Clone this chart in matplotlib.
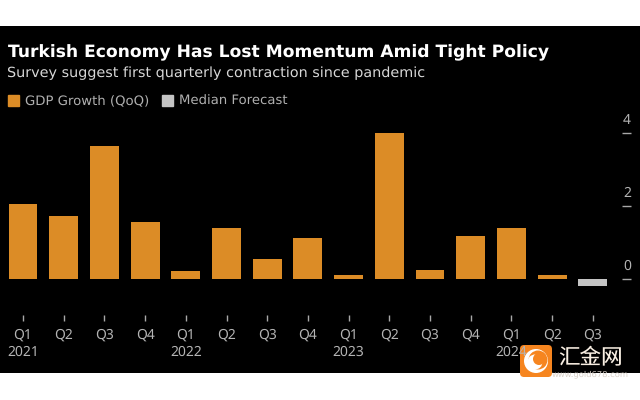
import matplotlib
matplotlib.use('Agg')
import matplotlib.pyplot as plt
from matplotlib.patches import Circle, FancyBboxPatch, Patch

plt.rcParams['text.hinting'] = 'no_hinting'

W, H = 640, 400

quarters = ['Q1', 'Q2', 'Q3', 'Q4', 'Q1', 'Q2', 'Q3', 'Q4', 'Q1', 'Q2', 'Q3', 'Q4', 'Q1', 'Q2', 'Q3']
years = ['2021', '', '', '', '2022', '', '', '', '2023', '', '', '', '2024', '', '']
gdp_growth = [2.05, 1.72, 3.65, 1.57, 0.2, 1.4, 0.53, 1.13, 0.1, 4.0, 0.23, 1.17, 1.4, 0.1]
median_forecast = [-0.2]
y_ticks = [0, 2, 4]

ORANGE = '#dc8c26'
GREY = '#c4c4c4'
TICK = '#a8a8a8'
LABEL = '#b4b4b4'


def px_box(x0, y0, x1, y1):
    # pixel box (y from the top) to figure fractions
    return [x0 / W, 1 - y1 / H, (x1 - x0) / W, (y1 - y0) / H]


fig = plt.figure(figsize=(W / 100, H / 100), dpi=100, facecolor='white')

# black card, also used as pixel canvas for the texts and the logo
bg = fig.add_axes([0, 0, 1, 1])
bg.set_xlim(0, W)
bg.set_ylim(H, 0)
bg.axis('off')
bg.axhspan(26, 373, color='black', lw=0)

ax = fig.add_axes(px_box(0, 100, 622, 315))
ax.patch.set_alpha(0)
step = 40.7
ax.set_xlim(-23 / step, (622 - 23) / step)
ax.set_ylim((278.7 - 315) / 36.4, (278.7 - 100) / 36.4)

xs = list(range(len(quarters)))
ax.bar(xs[:len(gdp_growth)], gdp_growth, width=0.71, color=ORANGE)
ax.bar(xs[len(gdp_growth):], median_forecast, width=0.71, color=GREY)

for s in ax.spines.values():
    s.set_visible(False)

ax.set_xticks(xs)
ax.set_xticklabels([f'{q}\n{y}' if y else q for q, y in zip(quarters, years)],
                   fontsize=10, family='Noto Sans', color=LABEL, linespacing=1.3)
ax.tick_params(axis='x', length=4.5, width=1, color=TICK, pad=5)

ax.yaxis.tick_right()
ax.set_yticks(y_ticks)
ax.set_yticklabels([])
ax.tick_params(axis='y', length=6.5, width=1, color=TICK)
for v in y_ticks:
    ax.annotate(str(v), (1, v), xycoords=ax.get_yaxis_transform(), xytext=(3.6, 4),
                textcoords='offset points', ha='center', va='bottom',
                fontsize=10, family='Noto Sans', color=LABEL)

bg.text(8, 53, 'Turkish Economy Has Lost Momentum Amid Tight Policy', fontsize=12.3,
        fontweight='bold', color='white', va='center', ha='left')
bg.text(7, 73, 'Survey suggest first quarterly contraction since pandemic', fontsize=10.4,
        color='#d8d8d8', va='center', ha='left')

handles = [Patch(color=ORANGE, label='GDP Growth (QoQ)'), Patch(color=GREY, label='Median Forecast')]
bg.legend(handles=handles, loc='upper left', bbox_to_anchor=(-1 / W, 1 - 86 / H), ncol=2, frameon=False,
          fontsize=9.5, labelcolor='#b0b0b0', handlelength=0.85, handleheight=0.85,
          handletextpad=0.45, columnspacing=0.95, borderpad=0.2)

# watermark
bg.add_patch(FancyBboxPatch((523, 348), 26, 26, boxstyle='round,pad=3,rounding_size=4',
                            fc='#f6851f', ec='none', zorder=5))
bg.add_patch(Circle((536, 361), 12, fc='white', ec='none', zorder=6))
bg.add_patch(Circle((538, 360), 9.5, fc='#f6851f', ec='none', zorder=7))
bg.add_patch(Circle((535, 362), 7.5, fc='white', ec='none', zorder=8))
bg.add_patch(Circle((539, 359), 6, fc='#f6851f', ec='none', zorder=9))
bg.text(590.5, 357, '汇金网', family=['Noto Sans CJK SC', 'DejaVu Sans'], fontsize=15.5,
        color='#f8eee2', ha='center', va='center', zorder=6)
bg.text(590, 374, 'www.gold678.com', fontsize=6, color='#d8d0c8', ha='center', va='center', zorder=6)

fig.savefig('out.png', dpi=100, facecolor='white')
plt.close(fig)
